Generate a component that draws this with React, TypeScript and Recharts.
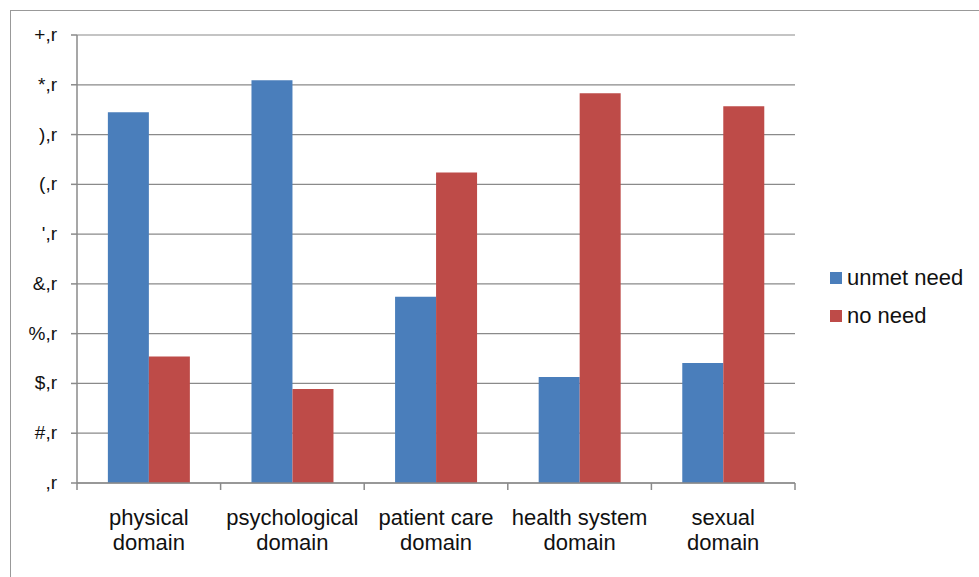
import { BarChart, Bar, XAxis, YAxis, CartesianGrid, Legend } from "recharts";

const domains = [
  ["physical", "domain"],
  ["psychological", "domain"],
  ["patient care", "domain"],
  ["health system", "domain"],
  ["sexual", "domain"],
];
const unmetNeed = [74.5, 80.9, 37.4, 21.3, 24.1];
const noNeed = [25.4, 18.9, 62.4, 78.3, 75.7];
const yTicks = [0, 10, 20, 30, 40, 50, 60, 70, 80, 90];
const yTickLabels = [",r", "#,r", "$,r", "%,r", "&,r", "',r", "(,r", "),r", "*,r", "+,r"];
const seriesNames = ["unmet need", "no need"];

const BLUE = "#4a7ebb";
const RED = "#be4b48";
const GRID = "#8a8a8a";
const FONT = "'Liberation Sans', Arial, sans-serif";

const W = 979;
const H = 577;
const MARGIN = { top: 35, right: 184, bottom: 34, left: 0 };
const Y_WIDTH = 77;
const BAND = (W - MARGIN.right - Y_WIDTH) / domains.length;

const data = domains.map((d, i) => ({
  name: d.join(" "),
  unmet: unmetNeed[i],
  none: noNeed[i],
}));

function CategoryTick(props: any) {
  const { x, y, index } = props;
  const lines = domains[index] ?? [];
  // y is axis + tickSize + tickMargin (6 + 2)
  const top = y - 8;
  return (
    <g>
      <line x1={x - BAND / 2} x2={x - BAND / 2} y1={top} y2={top + 7} stroke={GRID} strokeWidth={1.5} />
      {index === domains.length - 1 && (
        <line x1={x + BAND / 2} x2={x + BAND / 2} y1={top} y2={top + 7} stroke={GRID} strokeWidth={1.5} />
      )}
      <text x={x} y={y} textAnchor="middle" fill="#111" fontSize={22} fontFamily={FONT}>
        {lines.map((l: string, i: number) => (
          <tspan key={i} x={x} dy={i === 0 ? 34 : 25}>
            {l}
          </tspan>
        ))}
      </text>
    </g>
  );
}

function ValueTick(props: any) {
  const { x, y, payload } = props;
  const label = yTickLabels[yTicks.indexOf(payload.value)] ?? "";
  const ax = Y_WIDTH;
  return (
    <g>
      <line x1={ax - 6} x2={ax} y1={y} y2={y} stroke={GRID} strokeWidth={1.5} />
      <text x={x} y={y} dy={6} textAnchor="end" fill="#111" fontSize={19} fontFamily={FONT}>
        {label}
      </text>
    </g>
  );
}

function LegendContent() {
  const colors = [BLUE, RED];
  return (
    <div style={{ fontFamily: FONT, fontSize: 22, color: "#111" }}>
      {seriesNames.map((n, i) => (
        <div key={n} style={{ display: "flex", alignItems: "center", height: 38 }}>
          <span style={{ width: 12, height: 12, background: colors[i], display: "inline-block", marginRight: 5 }} />
          <span>{n}</span>
        </div>
      ))}
    </div>
  );
}

export default function App() {
  return (
    <div style={{ position: "absolute", left: 0, top: 0, width: W, height: H, background: "#fff", overflow: "hidden" }}>
      <div
        style={{
          position: "absolute",
          left: 10,
          top: 10,
          width: 975,
          height: 600,
          border: "1.5px solid #999",
          boxSizing: "border-box",
        }}
      />
      <div style={{ position: "absolute", left: 0, top: 0 }}>
        <BarChart width={W} height={H} data={data} margin={MARGIN} barCategoryGap="21.5%" barGap={0}>
          <CartesianGrid vertical={false} stroke={GRID} strokeWidth={1.2} />
          <XAxis
            dataKey="name"
            height={60}
            axisLine={{ stroke: GRID, strokeWidth: 1.5 }}
            tickLine={false}
            tick={<CategoryTick />}
            interval={0}
          />
          <YAxis
            width={Y_WIDTH}
            domain={[0, 90]}
            ticks={yTicks}
            interval={0}
            axisLine={{ stroke: GRID, strokeWidth: 1.5 }}
            tickLine={false}
            tickSize={6}
            tickMargin={14}
            tick={<ValueTick />}
          />
          <Legend
            layout="vertical"
            align="center"
            verticalAlign="middle"
            content={<LegendContent />}
            wrapperStyle={{ left: 830, top: 259, width: 150 }}
          />
          <Bar dataKey="unmet" name={seriesNames[0]} fill={BLUE} isAnimationActive={false} />
          <Bar dataKey="none" name={seriesNames[1]} fill={RED} isAnimationActive={false} />
        </BarChart>
      </div>
    </div>
  );
}
